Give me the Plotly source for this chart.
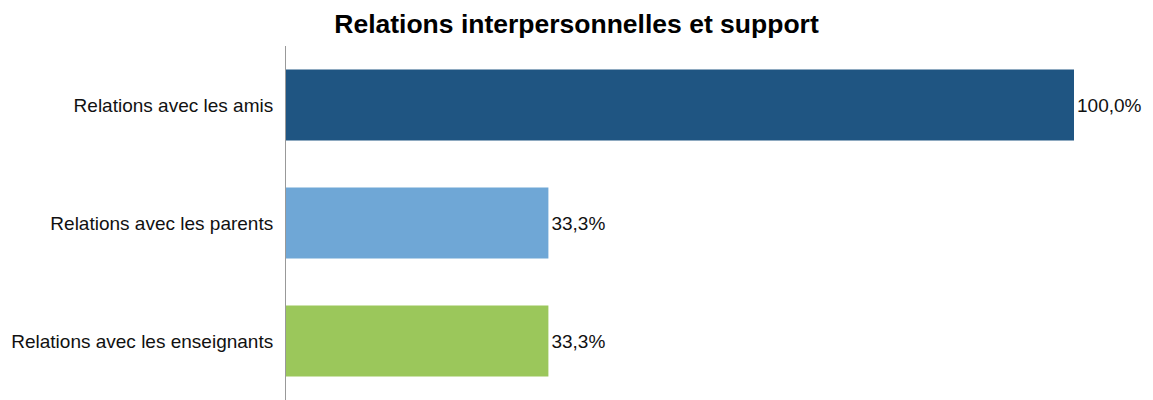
import plotly.graph_objects as go

categories = ["Relations avec les amis", "Relations avec les parents", "Relations avec les enseignants"]
values = [100.0, 33.3, 33.3]
colors = ["#1F5582", "#6FA7D6", "#9BC75B"]
labels = [f"{v:.1f}%".replace(".", ",") for v in values]

# page body has an 8px default margin; layout compensates for it
fig = go.Figure(go.Bar(
    x=values, y=categories, orientation="h",
    marker=dict(color=colors, line=dict(width=0)),
    width=0.6,
    text=labels, textposition="outside", cliponaxis=False,
    textfont=dict(family="Liberation Sans, Arial, sans-serif", size=19, color="#111111"),
))

fig.update_layout(
    width=1153, height=400,
    margin=dict(l=278, r=87, t=38, b=8, autoexpand=False),
    paper_bgcolor="white", plot_bgcolor="white",
    font=dict(family="Liberation Sans, Arial, sans-serif", size=19, color="#111111"),
    title=dict(text="<b>Relations interpersonnelles et support</b>", x=568.5/1153, xanchor="center",
               y=1 - 16/400, yanchor="middle",
               font=dict(size=26.5, color="#000000")),
    showlegend=False,
)
fig.update_xaxes(range=[0, 100], visible=False, automargin=False)
fig.update_yaxes(autorange="reversed", showline=True, linecolor="#999999", linewidth=1,
                 ticks="", ticklabelstandoff=8, showgrid=False, automargin=False)

fig.write_html("out.html")
